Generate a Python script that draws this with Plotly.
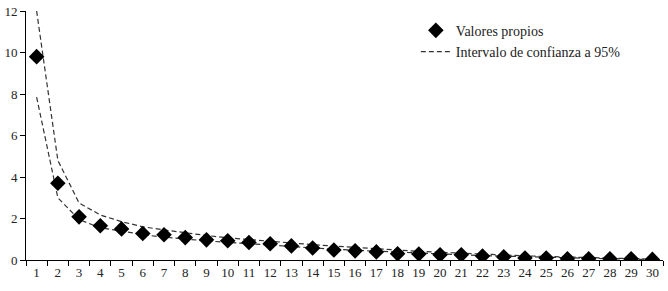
import plotly.graph_objects as go

componentes = [str(i) for i in range(1, 31)]
valores_propios = [9.8, 3.7, 2.08, 1.65, 1.5, 1.28, 1.22, 1.08, 0.97, 0.93,
                   0.84, 0.78, 0.68, 0.58, 0.48, 0.44, 0.39, 0.3, 0.29, 0.25,
                   0.25, 0.19, 0.15, 0.1, 0.1, 0.06, 0.06, 0.06, 0.06, 0.03]
ic_superior = [12.0, 4.8, 2.75, 2.17, 1.85, 1.6, 1.45, 1.3, 1.18, 1.07,
               0.98, 0.9, 0.82, 0.74, 0.67, 0.6, 0.54, 0.48, 0.42, 0.37,
               0.32, 0.28, 0.24, 0.2, 0.17, 0.14, 0.11, 0.08, 0.06, 0.04]
ic_inferior = [7.85, 3.0, 1.95, 1.55, 1.4, 1.22, 1.1, 1.0, 0.92, 0.85,
               0.78, 0.72, 0.65, 0.58, 0.52, 0.47, 0.42, 0.37, 0.33, 0.29,
               0.25, 0.21, 0.18, 0.15, 0.12, 0.1, 0.08, 0.06, 0.04, 0.02]
y_ticks = [0, 2, 4, 6, 8, 10, 12]

FONT = "Liberation Serif"
line_style = dict(color="#333333", width=1.2, dash="5px,3px")

fig = go.Figure()
fig.add_trace(go.Scatter(x=componentes, y=ic_superior, mode="lines", line=line_style,
                         name="Intervalo de confianza a 95%", showlegend=False))
fig.add_trace(go.Scatter(x=componentes, y=ic_inferior, mode="lines", line=line_style,
                         name="Intervalo de confianza a 95%", showlegend=True))
fig.add_trace(go.Scatter(x=componentes, y=valores_propios, mode="markers",
                         marker=dict(symbol="diamond", size=12, color="black"),
                         name="Valores propios"))

fig.update_layout(
    width=668, height=291,
    margin=dict(l=26, r=5, t=11, b=31, autoexpand=False),
    paper_bgcolor="white", plot_bgcolor="white",
    font=dict(family=FONT, size=13, color="#222222"),
    legend=dict(x=0.612, y=0.985, xanchor="left", yanchor="top",
                traceorder="reversed", bgcolor="rgba(0,0,0,0)",
                font=dict(family=FONT, size=14), itemwidth=30, tracegroupgap=0),
)
fig.update_xaxes(type="category", tickson="boundaries", ticks="outside", ticklen=5,
                 tickcolor="black", showline=True, linecolor="black", linewidth=1,
                 showgrid=False, range=[-0.5, 29.5], tickfont=dict(size=13),
                 tickangle=0, automargin=False)
fig.update_yaxes(range=[0, 12], tickvals=y_ticks, ticks="outside", ticklen=5,
                 tickcolor="black", showline=True, linecolor="black", linewidth=1,
                 showgrid=False, zeroline=False, tickfont=dict(size=13),
                 automargin=False)

fig.write_html("out.html", config={"displayModeBar": False},
               post_script="document.body.style.margin='0px';document.body.style.overflow='hidden';")
